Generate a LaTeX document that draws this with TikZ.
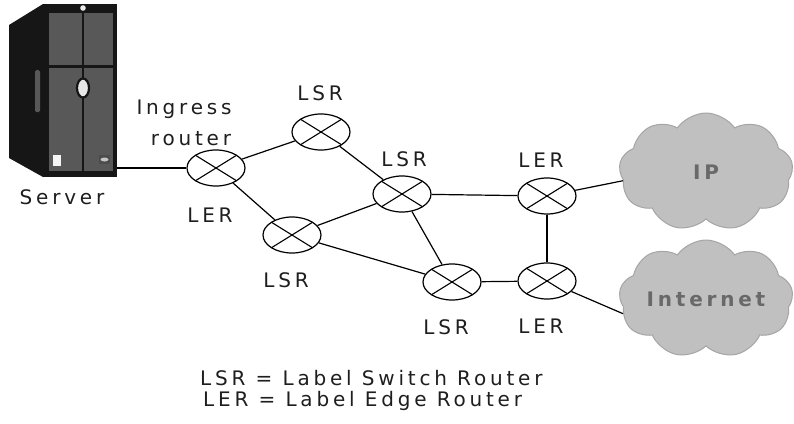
\documentclass[tikz,border=0pt]{standalone}
\usepackage{fontspec}
\setmainfont{DejaVu Sans}[LetterSpace=19]
\usetikzlibrary{shapes.geometric,shapes.symbols}
\definecolor{cloudfill}{RGB}{192,192,192}
\definecolor{cloudline}{RGB}{165,165,165}
\definecolor{cloudtext}{RGB}{105,105,105}
\definecolor{towerbody}{RGB}{22,22,22}
\definecolor{towerpanel}{RGB}{88,88,88}
\definecolor{textgray}{RGB}{30,30,30}
\tikzset{
  router/.style={ellipse, draw, line width=1.2pt, minimum width=58pt, minimum height=36pt,
    inner sep=0pt, fill=white,
    path picture={\draw[line width=1.1pt]
      (path picture bounding box.north west) -- (path picture bounding box.south east)
      (path picture bounding box.south west) -- (path picture bounding box.north east);}},
  link/.style={line width=1.2pt},
  lbl/.style={font=\fontsize{20}{23}\selectfont, text=textgray, inner sep=0pt},
  netcloud/.style={cloud, cloud puffs=9, cloud puff arc=110, cloud ignores aspect,
    fill=cloudfill, draw=cloudline, line width=1pt, minimum width=174pt, minimum height=118pt,
    inner sep=0pt, font=\fontsize{20}{23}\selectfont\bfseries, text=cloudtext},
}
\begin{document}
\begin{tikzpicture}[x=1pt,y=-1pt]
\useasboundingbox (0,0) rectangle (794,423);

% server tower
\fill[towerbody] (9,25) -- (43,4) -- (43,177) -- (9,158) -- cycle;
\fill[towerbody] (43,4) rectangle (117,177);
\fill[towerpanel] (49,13) rectangle (82,65);
\fill[towerpanel] (84,13) rectangle (113,65);
\fill[towerpanel] (49,68) rectangle (82,171);
\fill[towerpanel] (84,68) rectangle (113,171);
\fill[towerpanel, rounded corners=1.5pt] (35,70) rectangle (40,112);
\fill[white!85!gray] (83,8) circle (2.8);
\filldraw[fill=white!82!gray, draw=towerbody, line width=2.2pt] (83,88) ellipse (6 and 9.5);
\fill[white!92!gray] (53,155) rectangle (61,166);
\fill[gray!60!black] (99,155) rectangle (110,164);
\fill[gray!45] (104.5,159.5) ellipse (4 and 2);
\coordinate (srv) at (117,168);
\node[lbl] (srvlbl) at (62,197) {Server};

% routers
\node[router] (ing) at (216,168) {};
\node[router] (lsrA) at (321,132) {};
\node[router] (lsrB) at (292,235) {};
\node[router] (lsrC) at (402,194) {};
\node[router] (lsrD) at (452,282) {};
\node[router] (lerA) at (547,196) {};
\node[router] (lerB) at (547,281) {};

% clouds
\node[netcloud] (ip) at (706,172) {IP};
\node[netcloud] (inet) at (706,299) {Internet};

% links
\draw[link] (srv) -- (ing);
\draw[link] (ing) -- (lsrA);
\draw[link] (ing) -- (lsrB);
\draw[link] (lsrA) -- (lsrC);
\draw[link] (lsrB) -- (lsrC);
\draw[link] (lsrB) -- (lsrD);
\draw[link] (lsrC) -- (lerA);
\draw[link] (lsrC) -- (lsrD);
\draw[link] (lsrD) -- (lerB);
\draw[link] (lerA) -- (lerB);
\draw[link] (lerA) -- (ip.186);
\draw[link] (lerB) -- (inet.190);

% labels
\node[lbl] (ingA) at (184,109) {Ingress};
\node[lbl] (ingB) at (191,139) {router};
\node[lbl] (ingC) at (210,215) {LER};
\node[lbl] (lA) at (320,93) {LSR};
\node[lbl] (lC) at (404,159) {LSR};
\node[lbl] (lB) at (286,280) {LSR};
\node[lbl] (lD) at (446,327) {LSR};
\node[lbl] (eA) at (541,160) {LER};
\node[lbl] (eB) at (541,326) {LER};
\node[lbl, anchor=west] (legA) at (200,378) {LSR = Label Switch Router};
\node[lbl, anchor=west] (legB) at (203,401) {LER = Label Edge Router};
\end{tikzpicture}
\end{document}
